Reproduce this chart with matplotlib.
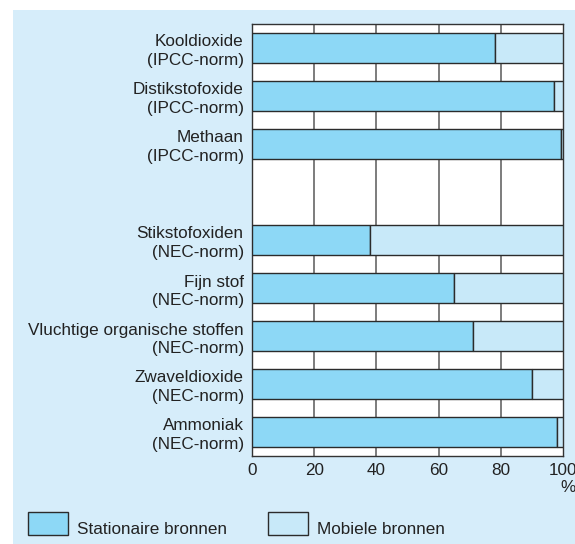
import numpy as np
import matplotlib.pyplot as plt
from matplotlib.patches import Rectangle

plt.rcParams['font.family'] = ['Liberation Sans', 'DejaVu Sans']

# data
categories = [
    "Kooldioxide\n(IPCC-norm)",
    "Distikstofoxide\n(IPCC-norm)",
    "Methaan\n(IPCC-norm)",
    "",
    "Stikstofoxiden\n(NEC-norm)",
    "Fijn stof\n(NEC-norm)",
    "Vluchtige organische stoffen\n(NEC-norm)",
    "Zwaveldioxide\n(NEC-norm)",
    "Ammoniak\n(NEC-norm)",
]
stationair = [78, 97, 99.5, np.nan, 38, 65, 71, 90, 98]
mobiel = [100 - v for v in stationair]
xticks = [0, 20, 40, 60, 80, 100]
legend_labels = ["Stationaire bronnen", "Mobiele bronnen"]

C_STAT = "#8dd8f6"
C_MOB = "#c8e9f9"
C_BG = "#d6edfa"
EDGE = "#2b2b2b"
FS = 12.3

W, H = 575, 544
fig = plt.figure(figsize=(W / 100, H / 100), dpi=100)
fig.patch.set_facecolor("white")

# light blue panel
fig.add_artist(Rectangle((13 / W, 0), 1 - 13 / W, 1 - 10 / H,
                         transform=fig.transFigure, facecolor=C_BG,
                         edgecolor="none", zorder=0))

ax = fig.add_axes([252 / W, 1 - 456 / H, 311 / W, 432 / H])
ax.set_facecolor("white")

y = np.arange(len(categories))
ax.barh(y, stationair, height=0.625, color=C_STAT, edgecolor=EDGE,
        linewidth=1.0, zorder=3)
ax.barh(y, mobiel, left=stationair, height=0.625, color=C_MOB,
        edgecolor=EDGE, linewidth=1.0, zorder=3)

for gx in xticks[1:-1]:
    ax.axvline(gx, color="#666666", linewidth=1.2, zorder=1)

ax.set_xlim(0, 100)
ax.set_ylim(len(categories) - 0.5, -0.5)
ax.set_xticks(xticks)
ax.set_xticklabels([str(t) for t in xticks], fontsize=FS, color="#222222")
ax.set_yticks(y)
ax.set_yticklabels(categories, fontsize=FS, color="#222222",
                   linespacing=1.25)
ax.tick_params(axis="both", length=0)
ax.tick_params(axis="y", pad=6)
ax.tick_params(axis="x", pad=5)
for sp in ax.spines.values():
    sp.set_color("#333333")
    sp.set_linewidth(1.0)

fig.text(568 / W, 1 - 488 / H, "%", ha="center", va="center",
         fontsize=FS, color="#222222")

# legend
for x0, lab, col in [(28, legend_labels[0], C_STAT), (268, legend_labels[1], C_MOB)]:
    fig.add_artist(Rectangle((x0 / W, 1 - 535 / H), 40 / W, 23 / H,
                             transform=fig.transFigure, facecolor=col,
                             edgecolor=EDGE, linewidth=1.0))
    fig.text((x0 + 49) / W, 1 - 529 / H, lab, ha="left", va="center",
             fontsize=FS, color="#222222")

plt.savefig("out.png", dpi=100)
